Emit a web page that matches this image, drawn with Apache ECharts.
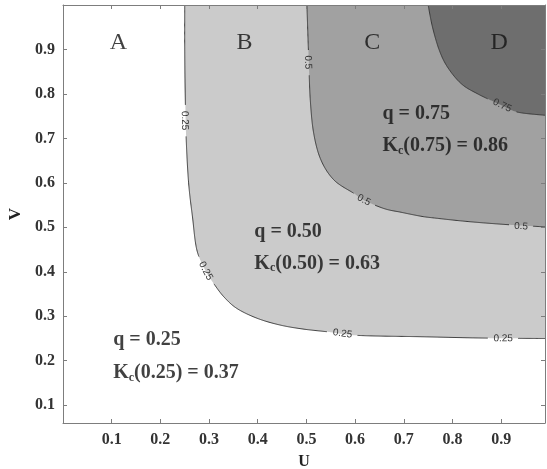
<!DOCTYPE html>
<html lang="en">
<head>
  <meta charset="utf-8">
</head>
<body style="margin: 0; background: #fff">
  <div id="container" style="width: 547px; height: 469px"></div>

  <script src="https://cdn.jsdelivr.net/npm/echarts@6/dist/echarts.min.js"></script>

  <script type="text/javascript">
    // contour lines of C(u, v) as [u, v]
    const contour25 = [
      [0.250, 1.000], [0.250, 0.900], [0.251, 0.800], [0.253, 0.700], [0.258, 0.600],
      [0.266, 0.523], [0.275, 0.449], [0.293, 0.402], [0.310, 0.373], [0.331, 0.343],
      [0.358, 0.317], [0.400, 0.295], [0.447, 0.280], [0.495, 0.271], [0.544, 0.265],
      [0.605, 0.257], [0.735, 0.254], [0.866, 0.251], [0.990, 0.250]
    ];
    const contour50 = [
      [0.501, 1.000], [0.505, 0.868], [0.508, 0.785], [0.515, 0.711], [0.530, 0.651],
      [0.557, 0.606], [0.598, 0.576], [0.618, 0.561], [0.660, 0.542], [0.694, 0.534],
      [0.735, 0.525], [0.763, 0.521], [0.832, 0.513], [0.914, 0.506], [0.990, 0.501]
    ];
    const contour75 = [
      [0.750, 1.000], [0.759, 0.950], [0.773, 0.898], [0.790, 0.860], [0.818, 0.823],
      [0.852, 0.800], [0.902, 0.774], [0.934, 0.759], [0.990, 0.752]
    ];
    const levelText = ['0.25', '0.5', '0.75'];

    // where the level numbers sit on each line
    const labelAt25 = [[0.250, 0.740], [0.293, 0.402], [0.574, 0.261], [0.904, 0.250]];
    const labelAt50 = [[0.503, 0.871], [0.618, 0.561], [0.941, 0.502]];
    const labelAt75 = [[0.902, 0.774]];

    // region letters and the q / Kc notes
    const regionNames = ['A', 'B', 'C', 'D'];
    const regionAt = [[0.114, 0.916], [0.373, 0.916], [0.635, 0.916], [0.896, 0.916]];
    const quantiles = ['0.25', '0.50', '0.75'];
    const kendallValues = ['0.37', '0.63', '0.86'];
    const quantileAt = [[0.102, 0.246], [0.392, 0.489], [0.655, 0.756]];
    const kendallAt = [[0.102, 0.172], [0.392, 0.419], [0.655, 0.684]];

    const xTicks = [0.1, 0.2, 0.3, 0.4, 0.5, 0.6, 0.7, 0.8, 0.9];
    const yTicks = [0.1, 0.2, 0.3, 0.4, 0.5, 0.6, 0.7, 0.8, 0.9];
    const xMax = 0.99;
    const yMin = 0.06;
    const yMax = 1;

    const contours = [contour25, contour50, contour75];
    const labelSpots = [labelAt25, labelAt50, labelAt75];
    const fills = ['#cbcbcb', '#a1a1a1', '#6e6e6e'];

    const serif = '"Liberation Serif", "Times New Roman", serif';
    const axisGray = '#7d7d7d';

    var dom = document.getElementById('container');
    var myChart = echarts.init(dom, null, { renderer: 'canvas' });

    function tickLabel(list) {
      return function (v) {
        const hit = list.find(t => Math.abs(t - v) < 1e-6);
        return hit === undefined ? '' : hit.toFixed(1);
      };
    }

    // Catmull-Rom through the pixel points so the drawn line is round
    function roundPath(pts) {
      const out = [];
      for (let k = 0; k < pts.length - 1; k++) {
        const p0 = pts[Math.max(0, k - 1)], p1 = pts[k], p2 = pts[k + 1];
        const p3 = pts[Math.min(pts.length - 1, k + 2)];
        const n = Math.max(2, Math.ceil(Math.hypot(p2[0] - p1[0], p2[1] - p1[1])));
        for (let s = 0; s < n; s++) {
          const t = s / n, t2 = t * t, t3 = t2 * t;
          const f = c => 0.5 * ((2 * p1[c]) + (-p0[c] + p2[c]) * t +
            (2 * p0[c] - 5 * p1[c] + 4 * p2[c] - p3[c]) * t2 +
            (-p0[c] + 3 * p1[c] - 3 * p2[c] + p3[c]) * t3);
          out.push([f(0), f(1)]);
        }
      }
      out.push(pts[pts.length - 1]);
      return out;
    }

    // one filled region plus its contour line (broken where the numbers sit)
    function renderLevel(params, api) {
      const i = params.dataIndex;
      const dense = roundPath(contours[i].map(p => api.coord(p)));
      const corner = api.coord([xMax, yMax]);
      const children = [{
        type: 'polygon',
        shape: { points: dense.concat([corner]) },
        style: { fill: fills[i] }
      }];

      const spots = labelSpots[i].map(p => api.coord(p));
      const gap = levelText[i].length * 3 + 3;
      let seg = [];
      const segs = [];
      dense.forEach(function (p) {
        const near = spots.some(s => Math.hypot(s[0] - p[0], s[1] - p[1]) < gap);
        if (near) {
          if (seg.length > 1) segs.push(seg);
          seg = [];
        } else {
          seg.push(p);
        }
      });
      if (seg.length > 1) segs.push(seg);

      segs.forEach(function (s) {
        children.push({
          type: 'polyline',
          shape: { points: s },
          style: { stroke: '#3a3a3a', lineWidth: 1, fill: 'none' }
        });
      });

      spots.forEach(function (s) {
        let best = 0, bestD = Infinity;
        dense.forEach(function (p, j) {
          const d = Math.hypot(s[0] - p[0], s[1] - p[1]);
          if (d < bestD) { bestD = d; best = j; }
        });
        const a = dense[Math.max(0, best - 4)];
        const b = dense[Math.min(dense.length - 1, best + 4)];
        const ang = Math.atan2(b[1] - a[1], b[0] - a[0]);
        children.push({
          type: 'text',
          x: s[0],
          y: s[1],
          rotation: -ang,
          style: {
            text: levelText[i],
            fontSize: 10,
            fontFamily: '"Liberation Sans", Arial, sans-serif',
            fill: '#333',
            align: 'center',
            verticalAlign: 'middle'
          }
        });
      });

      return { type: 'group', children: children };
    }

    const axisCommon = {
      type: 'value',
      z: 5,
      axisLine: { show: true, onZero: false, lineStyle: { color: axisGray, width: 1 } },
      axisTick: { show: true, inside: true, length: 4, lineStyle: { color: axisGray } },
      splitLine: { show: false }
    };

    const labelFont = {
      fontFamily: serif,
      fontWeight: 'bold',
      fontSize: 16,
      color: '#333'
    };

    var option = {
      animation: false,
      grid: { left: 63, right: 2, top: 5, bottom: 46, containLabel: false, outerBoundsMode: 'none' },
      xAxis: [
        Object.assign({}, axisCommon, {
          position: 'bottom',
          min: 0, max: xMax, interval: 0.1,
          name: 'U', nameLocation: 'middle', nameGap: 31,
          nameTextStyle: { fontFamily: serif, fontWeight: 'bold', fontSize: 16, color: '#222' },
          axisLabel: Object.assign({ margin: 9, formatter: tickLabel(xTicks) }, labelFont)
        }),
        Object.assign({}, axisCommon, {
          position: 'top',
          min: 0, max: xMax, interval: 0.1,
          axisLabel: { show: false }
        })
      ],
      yAxis: [
        Object.assign({}, axisCommon, {
          position: 'left',
          min: yMin, max: yMax, splitNumber: 9, minInterval: 0.1, maxInterval: 0.1,
          name: 'V', nameLocation: 'middle', nameGap: 36, nameRotate: 90,
          nameTextStyle: { fontFamily: serif, fontWeight: 'bold', fontSize: 17, color: '#222' },
          axisLabel: Object.assign({ margin: 8, formatter: tickLabel(yTicks) }, labelFont)
        }),
        Object.assign({}, axisCommon, {
          position: 'right',
          min: yMin, max: yMax, splitNumber: 9, minInterval: 0.1, maxInterval: 0.1,
          axisLabel: { show: false }
        })
      ],
      series: [
        {
          type: 'custom',
          coordinateSystem: 'cartesian2d',
          clip: true,
          silent: true,
          renderItem: renderLevel,
          data: contours.map(c => c[0])
        },
        {
          type: 'scatter',
          symbolSize: 1,
          itemStyle: { color: 'rgba(0,0,0,0)' },
          silent: true,
          data: regionAt,
          label: {
            show: true,
            position: 'inside',
            formatter: p => regionNames[p.dataIndex],
            fontFamily: serif,
            fontSize: 24,
            color: '#111'
          }
        },
        {
          type: 'scatter',
          symbolSize: 1,
          itemStyle: { color: 'rgba(0,0,0,0)' },
          silent: true,
          data: quantileAt,
          label: {
            show: true,
            position: 'right',
            distance: 0,
            formatter: p => 'q = ' + quantiles[p.dataIndex],
            fontFamily: serif,
            fontWeight: 'bold',
            fontSize: 20,
            color: '#111'
          }
        },
        {
          type: 'scatter',
          symbolSize: 1,
          itemStyle: { color: 'rgba(0,0,0,0)' },
          silent: true,
          data: kendallAt,
          label: {
            show: true,
            position: 'right',
            distance: 0,
            formatter: p => '{k|K}{s|c}{k|(' + quantiles[p.dataIndex] + ') = ' + kendallValues[p.dataIndex] + '}',
            rich: {
              k: { fontFamily: serif, fontWeight: 'bold', fontSize: 20, lineHeight: 22, color: '#111' },
              s: { fontFamily: serif, fontWeight: 'bold', fontSize: 12, lineHeight: 12, verticalAlign: 'bottom', color: '#111' }
            }
          }
        }
      ]
    };

    myChart.setOption(option);
    window.addEventListener('resize', myChart.resize);
  </script>
</body>
</html>
